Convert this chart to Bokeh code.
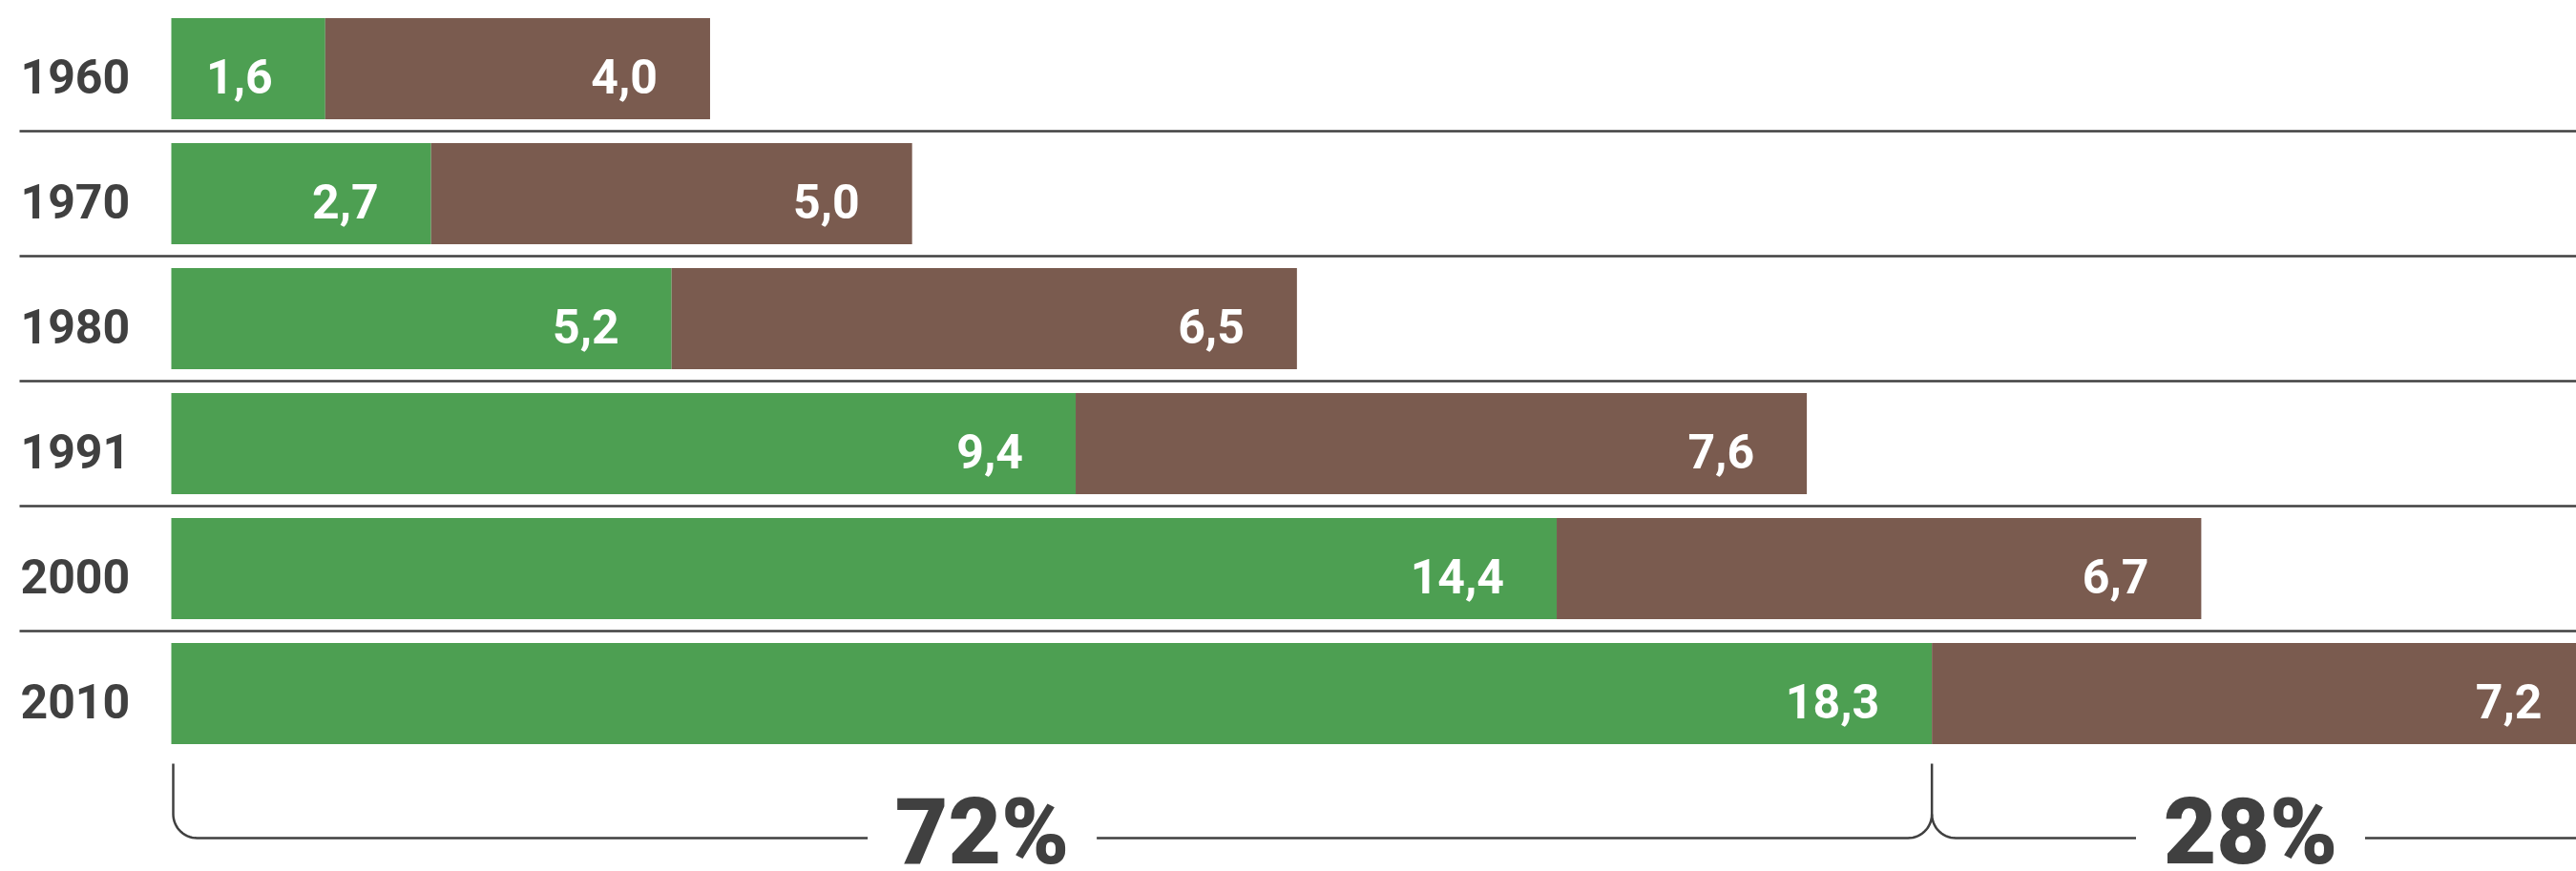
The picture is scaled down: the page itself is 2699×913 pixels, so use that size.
import numpy as np
from bokeh.plotting import figure
from bokeh.models import Range1d
from bokeh.core.properties import value
from bokeh.embed import file_html
from bokeh.resources import INLINE

# ---------------- data ----------------
years = ["1960", "1970", "1980", "1991", "2000", "2010"]
green_vals = [1.6, 2.7, 5.2, 9.4, 14.4, 18.3]
brown_vals = [4.0, 5.0, 6.5, 7.6, 6.7, 7.2]

# ---------------- style / layout ----------------
GREEN = "#4d9f52"
BROWN = "#7a5b4f"
DARK = "#404040"

W, H = 2699, 913
PXU = 100.8          # pixels per unit on x
ORIGIN_PX = 179      # frame px where x = 0
ROW_PX = 131         # px per row
ROW0_PX = 71.5       # frame px of first row centre

XS = -ORIGIN_PX / PXU
XE = XS + W / PXU
YT = -ROW0_PX / ROW_PX
YB = YT + H / ROW_PX


def fx(px):
    return XS + np.asarray(px, dtype=float) / PXU


def fy(py):
    return YT + np.asarray(py, dtype=float) / ROW_PX


def tox(x):
    return (x - XS) * PXU


idx = np.arange(len(years))
g = np.array(green_vals)
b = np.array(brown_vals)
tot = g + b


def fmt(v):
    return f"{v:.1f}".replace(".", ",")


p = figure(width=W, height=H, x_range=Range1d(XS, XE), y_range=Range1d(YB, YT),
           output_backend="svg", toolbar_location=None, min_border=0,
           x_axis_location=None, y_axis_location=None, outline_line_color=None,
           background_fill_color="white", border_fill_color="white")
p.xgrid.visible = False
p.ygrid.visible = False

# separators
sep_y = idx[:-1] + 0.5
p.segment(x0=[float(fx(20))] * len(sep_y), x1=[XE] * len(sep_y), y0=sep_y, y1=sep_y,
          line_color=DARK, line_width=2.5)

# bars
BAR_H = 106 / ROW_PX
p.hbar(y=idx, left=0, right=g, height=BAR_H, fill_color=GREEN, line_color=None)
p.hbar(y=idx, left=g, right=tot, height=BAR_H, fill_color=BROWN, line_color=None)

TXT_DY = 7.5 / ROW_PX
font = value("Roboto")

# year labels
p.text(x=[float(fx(21))] * len(years), y=idx + TXT_DY, text=years,
       text_align="left", text_baseline="alphabetic", text_font=font,
       text_font_style="bold", text_font_size="50px", text_color=DARK)

# value labels
p.text(x=g, y=idx + TXT_DY, text=[fmt(v) for v in g], x_offset=-55,
       text_align="right", text_baseline="alphabetic", text_font=font,
       text_font_style="bold", text_font_size="50px", text_color="white")
lx = np.minimum(tot, XE + 19 / PXU)
p.text(x=lx, y=idx + TXT_DY, text=[fmt(v) for v in b], x_offset=-55,
       text_align="right", text_baseline="alphabetic", text_font=font,
       text_font_style="bold", text_font_size="50px", text_color="white")

# braces for the last year
last = len(years) - 1
share_g = round(100 * g[last] / tot[last])
share_b = 100 - share_g
share_labels = [f"{share_g}%", f"{share_b}%"]

R = 25
TOP, MID, BASE = 800, 853, 878
GAP = 120
FRAC = 0.46


def arc(cx, cy, a0, a1, n=16):
    t = np.radians(np.linspace(a0, a1, n))
    return list(cx + R * np.cos(t)), list(cy + R * np.sin(t))


x0 = tox(0) + 2
xj = tox(g[last])
xe = tox(tot[last])
cl = x0 + FRAC * (xj - x0)
cr = xj + FRAC * (xe - xj)

paths = []
ax, ay = arc(x0 + R, MID, 180, 90)
paths.append(([x0] + ax + [cl - GAP], [TOP] + ay + [BASE]))
ax, ay = arc(xj - R, MID, 90, 0)
paths.append(([cl + GAP] + ax + [xj], [BASE] + ay + [TOP]))
ax, ay = arc(xj + R, MID, 180, 90)
paths.append((ax + [cr - GAP], ay + [BASE]))
ax, ay = arc(xe - R, MID, 90, 0)
paths.append(([cr + GAP] + ax + [xe], [BASE] + ay + [TOP]))

p.multi_line(xs=[list(fx(px)) for px, _ in paths], ys=[list(fy(py)) for _, py in paths],
             line_color=DARK, line_width=2.5)

SHARE_Y = float(fy(871))
p.text(x=list(fx([cl, cr])), y=[SHARE_Y, SHARE_Y], text=share_labels,
       text_align="center", text_baseline="alphabetic", text_font=value("Roboto Black"),
       text_font_style="normal", text_font_size="96px", text_color=DARK)

open("out.html", "w").write(file_html(p, INLINE))
